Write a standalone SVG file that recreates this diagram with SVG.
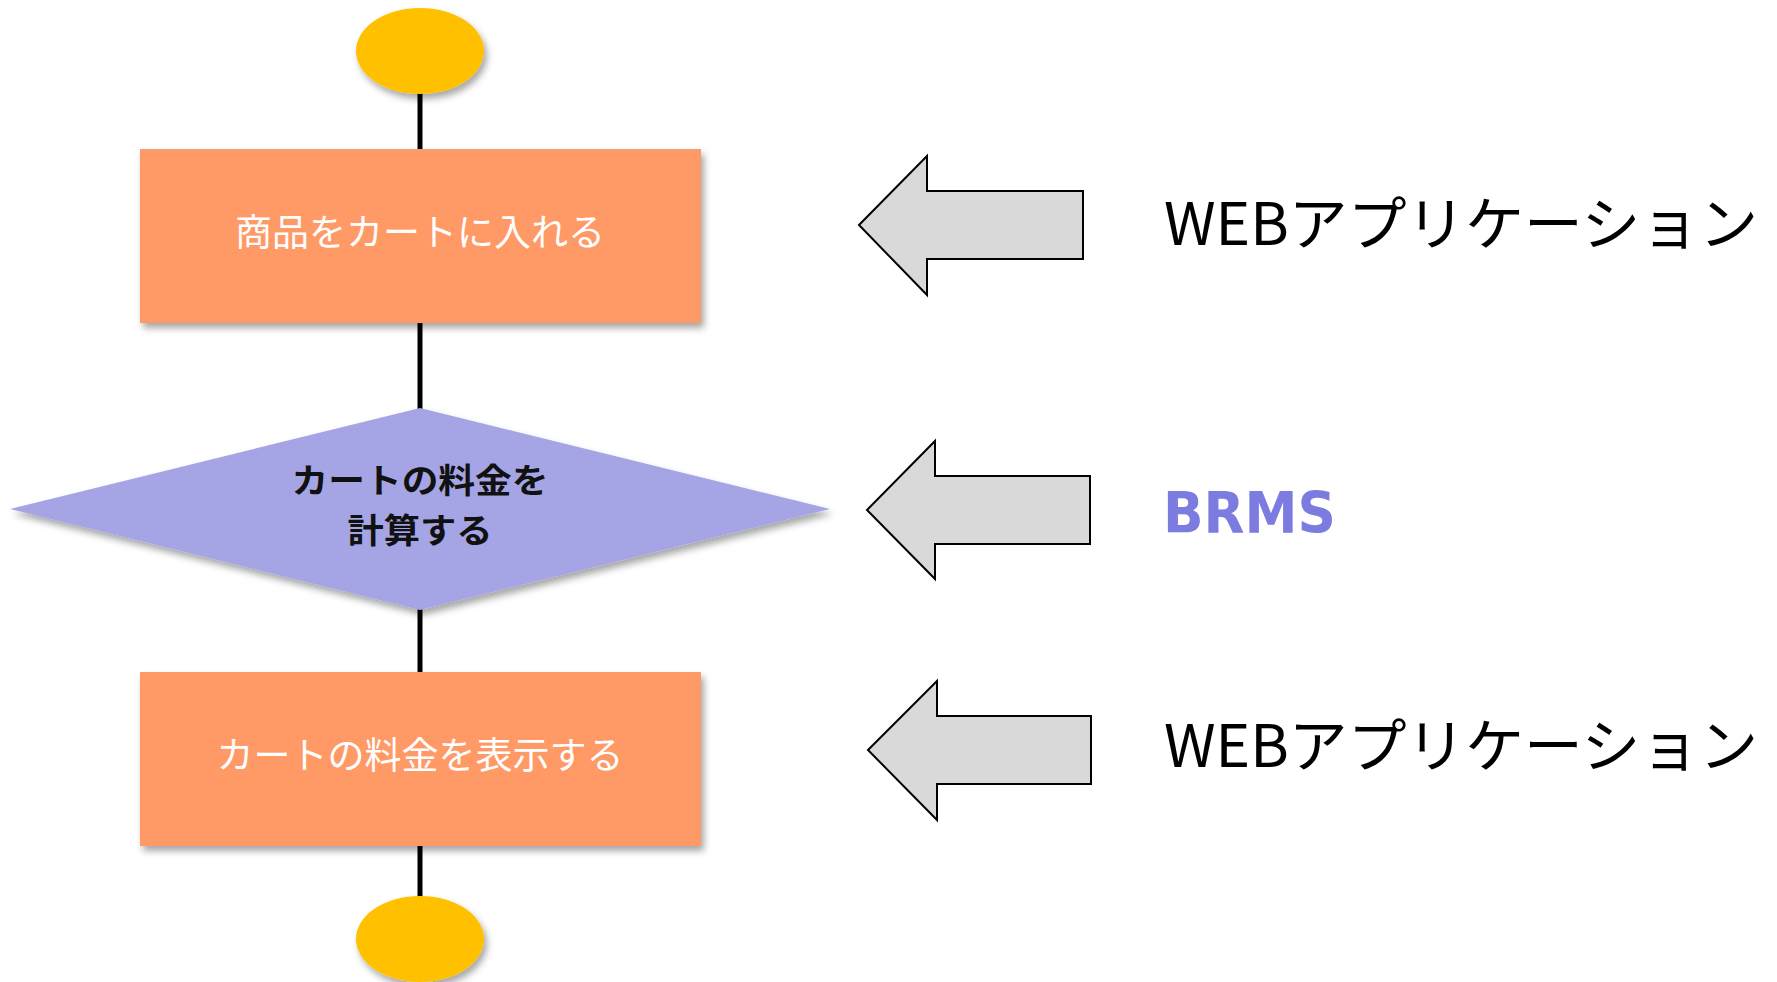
<svg xmlns="http://www.w3.org/2000/svg" width="1777" height="982" viewBox="0 0 1777 982">
  <defs>
    <filter id="sh" x="-10%" y="-10%" width="130%" height="140%">
      <feDropShadow dx="3" dy="5" stdDeviation="3.5" flood-color="#000" flood-opacity="0.35"/>
    </filter>
  </defs>
  <style>
    .term { fill: #FFC000; filter: url(#sh); }
    .proc { fill: #FF9966; filter: url(#sh); }
    .dec { fill: #A5A5E6; filter: url(#sh); }
    .arr { fill: #D9D9D9; stroke: #000; stroke-width: 2; stroke-linejoin: miter; }
    .conn { stroke: #000; stroke-width: 5; fill: none; }
    .jp { font-family: "Noto Sans CJK JP", "Noto Sans", sans-serif; }
    .wt { fill: #FFFFFF; font-size: 37px; text-anchor: middle; }
    .bt { fill: #111; font-size: 34px; font-weight: bold; text-anchor: middle; }
    .lbl { fill: #000; font-size: 58px; }
    .brms { fill: #7B7BE0; font-size: 57px; font-weight: bold; font-family: "DejaVu Sans", "Liberation Sans", sans-serif; }
  </style>
  <rect width="1777" height="982" fill="#FFFFFF"/>

  <g id="connectors">
    <line class="conn" x1="420" y1="90" x2="420" y2="150"/>
    <line class="conn" x1="420" y1="322" x2="420" y2="410"/>
    <line class="conn" x1="420" y1="608" x2="420" y2="673"/>
    <line class="conn" x1="420" y1="845" x2="420" y2="898"/>
  </g>

  <g id="start">
    <ellipse class="term" cx="420" cy="51" rx="64" ry="43"/>
  </g>

  <g id="step1">
    <rect class="proc" x="140" y="149" width="561" height="174"/>
    <text class="jp wt" x="420" y="246">商品をカートに入れる</text>
  </g>

  <g id="decision">
    <polygon class="dec" points="420,408 830,509 420,610 10,509"/>
    <text class="jp bt" x="420" y="493" textLength="257" lengthAdjust="spacingAndGlyphs">カートの料金を</text>
    <text class="jp bt" x="420" y="543" textLength="145" lengthAdjust="spacingAndGlyphs">計算する</text>
  </g>

  <g id="step2">
    <rect class="proc" x="140" y="672" width="561" height="174"/>
    <text class="jp wt" x="420" y="769">カートの料金を表示する</text>
  </g>

  <g id="end">
    <ellipse class="term" cx="420" cy="939" rx="64" ry="43"/>
  </g>

  <g id="arrow1">
    <polygon class="arr" points="859,225 927,156 927,191 1083,191 1083,259 927,259 927,295"/>
  </g>
  <g id="label1">
    <text class="jp lbl" x="1164" y="245" textLength="594" lengthAdjust="spacingAndGlyphs">WEBアプリケーション</text>
  </g>

  <g id="arrow2">
    <polygon class="arr" points="867,510 935,441 935,476 1090,476 1090,544 935,544 935,579"/>
  </g>
  <g id="label2">
    <text class="brms" x="1163" y="533" textLength="173" lengthAdjust="spacingAndGlyphs">BRMS</text>
  </g>

  <g id="arrow3">
    <polygon class="arr" points="868,750 937,681 937,716 1091,716 1091,784 937,784 937,820"/>
  </g>
  <g id="label3">
    <text class="jp lbl" x="1164" y="767" textLength="594" lengthAdjust="spacingAndGlyphs">WEBアプリケーション</text>
  </g>
</svg>
